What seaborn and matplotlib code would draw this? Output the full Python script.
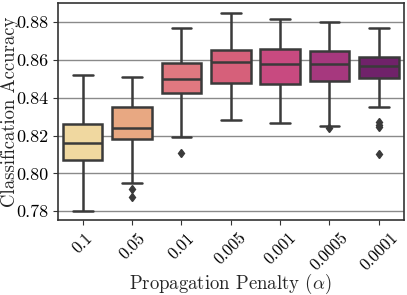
import pandas as pd
import matplotlib
matplotlib.use("Agg")
import matplotlib.pyplot as plt
import seaborn as sns

# -------------------------------
# Data (accuracy per run)
# -------------------------------
penalties = ["0.1", "0.05", "0.01", "0.005", "0.001", "0.0005", "0.0001"]

acc_01 = [0.780, 0.801, 0.807, 0.812, 0.816, 0.820, 0.826, 0.838, 0.852]
acc_005 = [0.7875, 0.7915, 0.795, 0.818, 0.820, 0.822, 0.824, 0.828, 0.831,
           0.835, 0.840, 0.845, 0.851]
acc_001 = [0.811, 0.819, 0.8425, 0.846, 0.850, 0.854, 0.8585, 0.868, 0.877]
acc_0005 = [0.8284, 0.838, 0.848, 0.854, 0.8588, 0.862, 0.8653, 0.875, 0.8848]
acc_0001 = [0.8266, 0.837, 0.8473, 0.853, 0.8577, 0.862, 0.8657, 0.874, 0.8817]
acc_00005 = [0.8238, 0.825, 0.8487, 0.853, 0.8579, 0.861, 0.8648, 0.872, 0.8802]
acc_00001 = [0.810, 0.8245, 0.8258, 0.8272, 0.8351, 0.8503, 0.852, 0.8535,
             0.8548, 0.856, 0.8568, 0.8578, 0.8588, 0.8598, 0.8608, 0.8618,
             0.864, 0.867, 0.870, 0.874, 0.877]

box_colors = ["#f0d8a0", "#e8a882", "#e07880", "#d6607a", "#c84a80",
              "#a6387e", "#70226a"]

groups = [acc_01, acc_005, acc_001, acc_0005, acc_0001, acc_00005, acc_00001]
df = pd.DataFrame({
    "penalty": [p for p, g in zip(penalties, groups) for _ in g],
    "accuracy": [v for g in groups for v in g],
})

# -------------------------------
# Style
# -------------------------------
sns.set_style("ticks")
plt.rcParams["font.family"] = ["cmr10", "DejaVu Serif"]
plt.rcParams["mathtext.fontset"] = "cm"
plt.rcParams["axes.formatter.use_mathtext"] = True

fig = plt.figure(figsize=(4.07, 2.95), dpi=100)
ax = fig.add_axes([0.1425, 0.253, 0.849, 0.736])

line_col = "#3a3a3a"
sns.boxplot(data=df, x="penalty", y="accuracy", order=penalties,
            hue="penalty", hue_order=penalties, palette=box_colors,
            legend=False, saturation=1, linewidth=1.8, linecolor=line_col,
            fliersize=4.5,
            flierprops={"marker": "d", "markerfacecolor": line_col,
                        "markeredgecolor": line_col},
            ax=ax)

ax.set_ylim(0.7751, 0.8901)
ax.set_yticks([0.78, 0.80, 0.82, 0.84, 0.86, 0.88])
ax.set_yticklabels(["0.78", "0.80", "0.82", "0.84", "0.86", "0.88"])
ax.yaxis.grid(True, color="#8a8a8a", linewidth=1.0)
ax.set_axisbelow(True)
for s in ax.spines.values():
    s.set_color("#333333")
    s.set_linewidth(1.2)

ax.tick_params(axis="y", labelsize=13, colors="#333333", labelcolor="black")
ax.tick_params(axis="x", labelsize=12, colors="#333333", labelcolor="black")
plt.setp(ax.get_xticklabels(), rotation=45, ha="center")

ax.set_xlabel(r"Propagation Penalty ($\alpha$)", fontsize=13.5)
ax.xaxis.set_label_coords(0.5, -0.238)
ax.set_ylabel("Classification Accuracy", fontsize=13.5)
ax.yaxis.set_label_coords(-0.113, 0.5)

fig.savefig("out.png", dpi=100)
